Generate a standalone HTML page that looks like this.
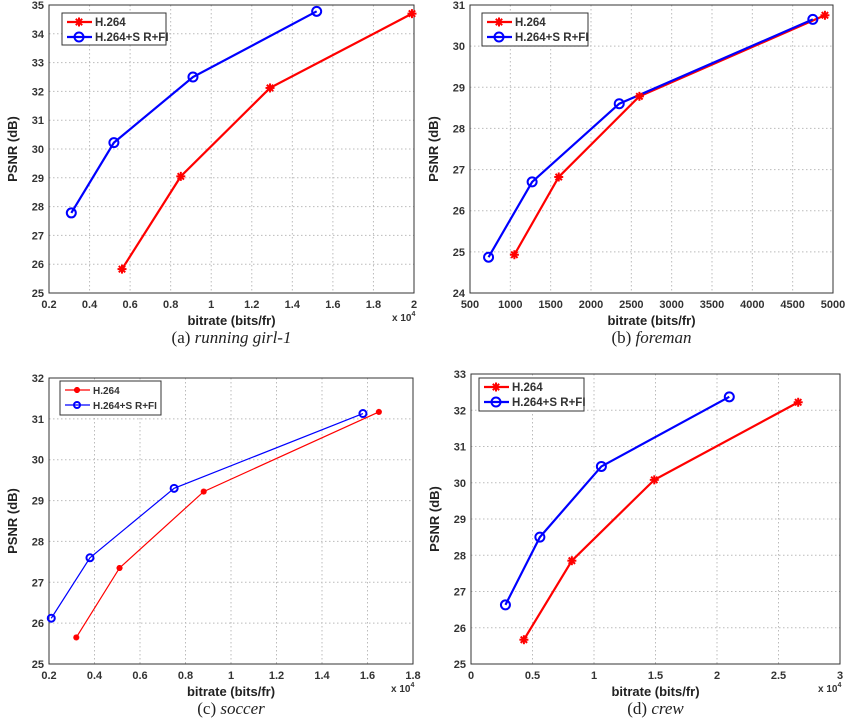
<!DOCTYPE html>
<html><head><meta charset="utf-8"><style>
body{margin:0;background:#fff;width:850px;height:720px;overflow:hidden}
svg{font-family:"Liberation Sans",sans-serif}
.t{font-size:11px;font-weight:bold;fill:#333}
.lab{font-size:13px;font-weight:bold;fill:#222}
.cap{font-family:"Liberation Serif",serif;font-size:17px;fill:#222}
</style></head><body>
<svg id="s" width="850" height="720" xmlns="http://www.w3.org/2000/svg"></svg>
<script>
const S=document.getElementById('s');let h='';
function star(x,y,c,r){let p='';for(let i=0;i<4;i++){const a=i*Math.PI/4;p+=`<line x1="${x-r*Math.cos(a)}" y1="${y-r*Math.sin(a)}" x2="${x+r*Math.cos(a)}" y2="${y+r*Math.sin(a)}" stroke="${c}" stroke-width="2"/>`;}return p;}
function panel(o){
 const {x0,x1,y0,y1,xmin,xmax,ymin,ymax,xt,yt,xl,red,blue,leg,cap,exp,thin}=o;
 const X=v=>x0+(v-xmin)/(xmax-xmin)*(x1-x0),Y=v=>y1-(v-ymin)/(ymax-ymin)*(y1-y0);
 xt.forEach((v,i)=>{const x=X(v);h+=`<line x1="${x}" y1="${y0}" x2="${x}" y2="${y1}" stroke="#bbb" stroke-dasharray="1.5,2.5"/>`;h+=`<text class="t" x="${x}" y="${y1+15}" text-anchor="middle">${xl[i]}</text>`;});
 yt.forEach(v=>{const y=Y(v);h+=`<line x1="${x0}" y1="${y}" x2="${x1}" y2="${y}" stroke="#bbb" stroke-dasharray="1.5,2.5"/>`;h+=`<text class="t" x="${x0-5}" y="${y+4}" text-anchor="end">${v}</text>`;});
 h+=`<rect x="${x0}" y="${y0}" width="${x1-x0}" height="${y1-y0}" fill="none" stroke="#333" stroke-width="1"/>`;
 const sw=thin?1.2:2.2;
 h+=`<polyline points="${red.map(p=>X(p[0])+','+Y(p[1])).join(' ')}" fill="none" stroke="#f00" stroke-width="${sw}"/>`;
 h+=`<polyline points="${blue.map(p=>X(p[0])+','+Y(p[1])).join(' ')}" fill="none" stroke="#00f" stroke-width="${sw}"/>`;
 red.forEach(p=>h+=star(X(p[0]),Y(p[1]),'#f00',thin?3:4.5));
 blue.forEach(p=>h+=`<circle cx="${X(p[0])}" cy="${Y(p[1])}" r="${thin?3.5:4.5}" fill="none" stroke="#00f" stroke-width="2"/>`);
 const [lx,ly,lw,lh]=leg;
 h+=`<rect x="${lx}" y="${ly}" width="${lw}" height="${lh}" fill="#fff" stroke="#333"/>`;
 h+=`<line x1="${lx+5}" y1="${ly+9}" x2="${lx+30}" y2="${ly+9}" stroke="#f00" stroke-width="${sw}"/>`+star(lx+17,ly+9,'#f00',thin?3:4.5);
 h+=`<text class="t" x="${lx+33}" y="${ly+13}" style="font-size:${thin?10:11.5}px">H.264</text>`;
 h+=`<line x1="${lx+5}" y1="${ly+24}" x2="${lx+30}" y2="${ly+24}" stroke="#00f" stroke-width="${sw}"/><circle cx="${lx+17}" cy="${ly+24}" r="${thin?3:4.5}" fill="none" stroke="#00f" stroke-width="2"/>`;
 h+=`<text class="t" x="${lx+33}" y="${ly+28}" style="font-size:${thin?10:11.5}px">H.264+S R+FI</text>`;
 h+=`<text class="lab" x="${(x0+x1)/2}" y="${y1+32}" text-anchor="middle">bitrate (bits/fr)</text>`;
 h+=`<text class="lab" transform="translate(${x0-32},${(y0+y1)/2}) rotate(-90)" text-anchor="middle">PSNR (dB)</text>`;
 if(exp)h+=`<text class="t" style="font-size:10px" x="${x1-22}" y="${y1+28}">x 10<tspan dy="-5" style="font-size:7px">4</tspan></text>`;
 h+=`<text class="cap" x="${(x0+x1)/2}" y="${y1+50}" text-anchor="middle">${cap}</text>`;
}
panel({x0:49,x1:414,y0:5,y1:293,xmin:0.2,xmax:2,ymin:25,ymax:35,xt:[0.2,0.4,0.6,0.8,1,1.2,1.4,1.6,1.8,2],xl:['0.2','0.4','0.6','0.8','1','1.2','1.4','1.6','1.8','2'],yt:[25,26,27,28,29,30,31,32,33,34,35],
red:[[0.56,25.83],[0.85,29.05],[1.29,32.12],[1.99,34.7]],blue:[[0.31,27.78],[0.52,30.22],[0.91,32.5],[1.52,34.78]],leg:[62,13,104,32],cap:'(a) <tspan font-style="italic">running girl-1</tspan>',exp:1});
panel({x0:470,x1:833,y0:5,y1:293,xmin:500,xmax:5000,ymin:24,ymax:31,xt:[500,1000,1500,2000,2500,3000,3500,4000,4500,5000],xl:['500','1000','1500','2000','2500','3000','3500','4000','4500','5000'],yt:[24,25,26,27,28,29,30,31],
red:[[1050,24.93],[1600,26.82],[2600,28.78],[4900,30.75]],blue:[[730,24.87],[1270,26.7],[2350,28.6],[4750,30.65]],leg:[482,13,106,33],cap:'(b) <tspan font-style="italic">foreman</tspan>'});
panel({x0:49,x1:413,y0:378,y1:664,xmin:0.2,xmax:1.8,ymin:25,ymax:32,xt:[0.2,0.4,0.6,0.8,1,1.2,1.4,1.6,1.8],xl:['0.2','0.4','0.6','0.8','1','1.2','1.4','1.6','1.8'],yt:[25,26,27,28,29,30,31,32],
red:[[0.32,25.65],[0.51,27.35],[0.88,29.22],[1.65,31.17]],blue:[[0.21,26.12],[0.38,27.6],[0.75,29.3],[1.58,31.13]],leg:[60,381,101,34],cap:'(c) <tspan font-style="italic">soccer</tspan>',exp:1,thin:1});
panel({x0:471,x1:840,y0:374,y1:664,xmin:0,xmax:3,ymin:25,ymax:33,xt:[0,0.5,1,1.5,2,2.5,3],xl:['0','0.5','1','1.5','2','2.5','3'],yt:[25,26,27,28,29,30,31,32,33],
red:[[0.43,25.67],[0.82,27.85],[1.49,30.08],[2.66,32.22]],blue:[[0.28,26.63],[0.56,28.5],[1.06,30.45],[2.1,32.37]],leg:[479,378,105,33],cap:'(d) <tspan font-style="italic">crew</tspan>',exp:1});
S.innerHTML=h;
</script>
</body></html>
